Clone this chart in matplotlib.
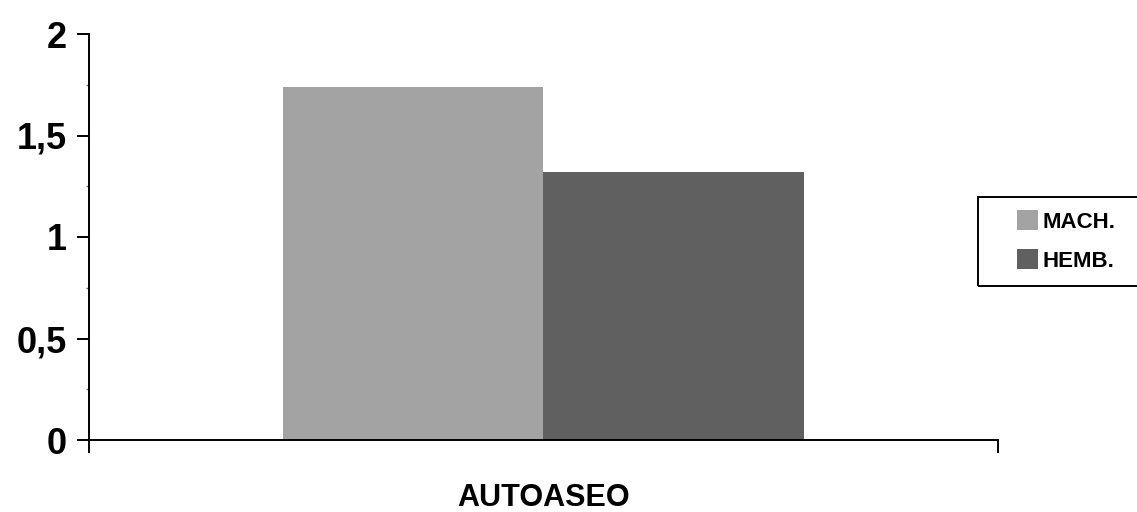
import numpy as np
import matplotlib
matplotlib.use("Agg")
import matplotlib.pyplot as plt
from matplotlib.patches import Patch, Rectangle
from matplotlib.ticker import FuncFormatter, MultipleLocator

categories = ["AUTOASEO"]
series_names = ["MACH.", "HEMB."]
series_values = [[1.74], [1.32]]
series_colors = ["#a3a3a3", "#606060"]
y_ticks = [0, 0.5, 1, 1.5, 2]

font = ["Liberation Sans", "DejaVu Sans"]

fig = plt.figure(figsize=(11.37, 5.12), dpi=100)
ax = fig.add_axes([89 / 1137, 1 - 440 / 512, 909 / 1137, 406 / 512])

x = np.arange(len(categories))
bar_w = 0.287
for i, (name, vals, col) in enumerate(zip(series_names, series_values, series_colors)):
    offs = (i - (len(series_names) - 1) / 2) * bar_w
    ax.bar(x + offs, vals, width=bar_w, color=col, label=name, linewidth=0)

ax.set_xlim(-0.5, len(categories) - 0.5)
ax.set_ylim(0, 2)

for s in ["top", "right"]:
    ax.spines[s].set_visible(False)
for s in ["left", "bottom"]:
    ax.spines[s].set_linewidth(1.4)
    ax.spines[s].set_color("black")

# y axis: comma decimals, small minor marks in between
ax.set_yticks(y_ticks)
ax.yaxis.set_major_formatter(FuncFormatter(lambda v, p: f"{v:g}".replace(".", ",")))
ax.yaxis.set_minor_locator(MultipleLocator(0.25))
ax.tick_params(axis="y", which="major", direction="out", length=9, width=1.4, pad=7)
ax.tick_params(axis="y", which="minor", direction="out", length=2, width=1, color="#666666")
for lab in ax.get_yticklabels():
    lab.set_fontfamily(font)
    lab.set_fontweight("bold")
    lab.set_fontsize(26)

# x axis: ticks on category boundaries, label at the centre
bounds = np.arange(len(categories) + 1) - 0.5
ax.set_xticks(bounds, labels=[""] * len(bounds))
ax.tick_params(axis="x", which="major", direction="out", length=9, width=1.4)
ax.set_xticks(x, labels=categories, minor=True)
ax.tick_params(axis="x", which="minor", length=0, pad=31)
for lab in ax.get_xticklabels(minor=True):
    lab.set_fontfamily(font)
    lab.set_fontweight("bold")
    lab.set_fontsize(22)

handles = [Patch(facecolor=c, edgecolor="none") for c in series_colors]
leg = ax.legend(handles, series_names, loc="center left",
                bbox_to_anchor=(1017 / 1137, 1 - 241 / 512), bbox_transform=fig.transFigure,
                frameon=False, handlelength=0.95, handleheight=0.95, handletextpad=0.2,
                labelspacing=0.75, borderpad=0, borderaxespad=0,
                prop={"family": font, "weight": "bold", "size": 16})

fig.patches.append(Rectangle((978 / 1137, 1 - 286 / 512), 0.2, 89 / 512,
                             transform=fig.transFigure, fill=False,
                             edgecolor="black", linewidth=1.4))

fig.savefig("out.png", dpi=100, facecolor="white")
